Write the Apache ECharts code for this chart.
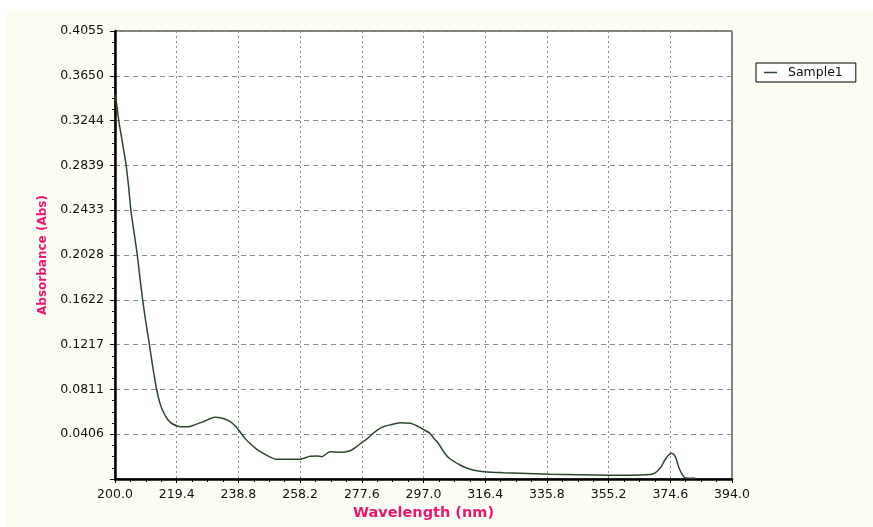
<!DOCTYPE html>
<html>
<head>
<meta charset="utf-8">
<script src="https://cdn.jsdelivr.net/npm/echarts@6/dist/echarts.min.js"></script>
<style>
  html, body { margin: 0; padding: 0; background: #ffffff; }
  #chart { width: 873px; height: 527px; }
</style>
</head>
<body>
<div id="chart"></div>
<script>
// UV-Vis absorbance spectrum of Sample1
const wavelengths = [
  200.0, 200.5, 201.2, 202.3, 203.5, 204.3, 205.0, 206.0, 207.0, 207.8,
  208.7, 209.7, 210.8, 211.9, 213.1, 214.2, 215.3, 216.7, 218.0, 219.8,
  221.5, 223.6, 225.5, 227.8, 229.8, 231.4, 233.5, 236.2, 237.8, 239.3,
  240.8, 242.4, 244.5, 246.6, 248.7, 250.8, 254.5, 258.2, 261.3, 263.5,
  265.0, 267.6, 270.7, 273.9, 275.8, 277.6, 279.5, 281.2, 282.8, 284.4,
  286.5, 289.6, 292.8, 295.0, 296.9, 299.0, 300.5, 301.5, 303.5, 305.0,
  308.5, 311.0, 313.7, 316.9, 322.0, 327.3, 336.8, 346.0, 355.6, 362.0,
  367.2, 369.0, 370.3, 371.7, 372.9, 374.0, 375.0, 375.8, 376.4, 377.0,
  377.6, 378.4, 379.2, 382.4
];
const absorbance = [
  0.348, 0.340, 0.324, 0.305, 0.284, 0.264, 0.243, 0.223, 0.203, 0.183,
  0.162, 0.142, 0.122, 0.101, 0.081, 0.068, 0.060, 0.0534, 0.050, 0.0478,
  0.0473, 0.0475, 0.0495, 0.0519, 0.0545, 0.0559, 0.0552, 0.0519, 0.048, 0.0428,
  0.037, 0.0323, 0.027, 0.0232, 0.020, 0.0178, 0.0178, 0.0178, 0.0205, 0.0208,
  0.0202, 0.0247, 0.0242, 0.0256, 0.029, 0.0329, 0.037, 0.0414, 0.045, 0.0473,
  0.049, 0.0510, 0.0504, 0.048, 0.0450, 0.0414, 0.036, 0.033, 0.024, 0.019,
  0.0127, 0.0095, 0.0075, 0.0063, 0.0057, 0.0052, 0.0042, 0.0038, 0.0034, 0.0035,
  0.0038, 0.0045, 0.0066, 0.011, 0.0172, 0.0215, 0.0232, 0.022, 0.0187, 0.013,
  0.0081, 0.004, 0.0012, 0.0006
];

const seriesName = 'Sample1';
const xMin = 200.0, xMax = 394.0, xStep = 19.4;
const yMin = 0, yMax = 0.4055, yStep = 0.04055;
const yTickLabels = ['', '0.0406', '0.0811', '0.1217', '0.1622', '0.2028',
                     '0.2433', '0.2839', '0.3244', '0.3650', '0.4055'];

const lineColor = '#2b472b';
const titleColor = '#f0166e';
const labelFont = { fontFamily: 'DejaVu Sans', fontSize: 12.5, color: '#111' };

const chart = echarts.init(document.getElementById('chart'), null, { renderer: 'canvas' });

chart.setOption({
  animation: false,
  backgroundColor: '#ffffff',
  graphic: [{
    type: 'rect', z: -10, silent: true,
    shape: { x: 5, y: 10, width: 868, height: 517 },
    style: { fill: '#fdfdf3' }
  }],
  grid: {
    left: 115, right: 141, top: 31, bottom: 48,
    show: true, backgroundColor: '#ffffff', borderColor: '#000', borderWidth: 1
  },
  legend: {
    data: [{ name: seriesName, icon: 'rect' }],
    left: 756, top: 63,
    orient: 'vertical',
    backgroundColor: '#ffffff',
    borderColor: '#000', borderWidth: 1, borderRadius: 0,
    padding: [3, 13, 3, 8],
    itemWidth: 13, itemHeight: 1.5, itemGap: 4,
    textStyle: { fontFamily: 'DejaVu Sans', fontSize: 12.5, color: '#111', padding: [0, 0, 0, 6] }
  },
  xAxis: {
    type: 'value',
    min: xMin, max: xMax, interval: xStep,
    name: 'Wavelength (nm)',
    nameLocation: 'middle', nameGap: 25,
    nameTextStyle: { fontFamily: 'DejaVu Sans', fontWeight: 'bold', fontSize: 14.5, color: titleColor },
    axisLine: { show: true, onZero: false, lineStyle: { color: '#000', width: 2.5 } },
    axisTick: { show: true, length: 4, lineStyle: { color: '#000' } },
    minorTick: { show: true, splitNumber: 4, length: 3, lineStyle: { color: '#000' } },
    axisLabel: Object.assign({ margin: 9, formatter: v => v.toFixed(1) }, labelFont),
    splitLine: { show: true, lineStyle: { color: '#8c8c8c', type: [2, 3], width: 1 } }
  },
  yAxis: {
    type: 'value',
    min: yMin, max: yMax, interval: yStep,
    name: 'Absorbance (Abs)',
    nameLocation: 'middle', nameGap: 63,
    nameTextStyle: { fontFamily: 'DejaVu Sans', fontWeight: 'bold', fontSize: 12, color: titleColor },
    axisLine: { show: true, onZero: false, lineStyle: { color: '#000', width: 2.5 } },
    axisTick: { show: true, length: 5, lineStyle: { color: '#000' } },
    minorTick: { show: true, splitNumber: 4, length: 3, lineStyle: { color: '#000' } },
    axisLabel: Object.assign({
      margin: 11,
      formatter: v => yTickLabels[Math.round(v / yStep)] || ''
    }, labelFont),
    splitLine: { show: true, lineStyle: { color: '#8c8c8c', type: [5, 4], width: 1 } }
  },
  series: [{
    name: seriesName,
    type: 'line',
    data: wavelengths.map((w, i) => [w, absorbance[i]]),
    showSymbol: false,
    smooth: 0.2,
    lineStyle: { color: lineColor, width: 1.5 },
    itemStyle: { color: lineColor },
    clip: true
  }]
});
</script>
</body>
</html>
